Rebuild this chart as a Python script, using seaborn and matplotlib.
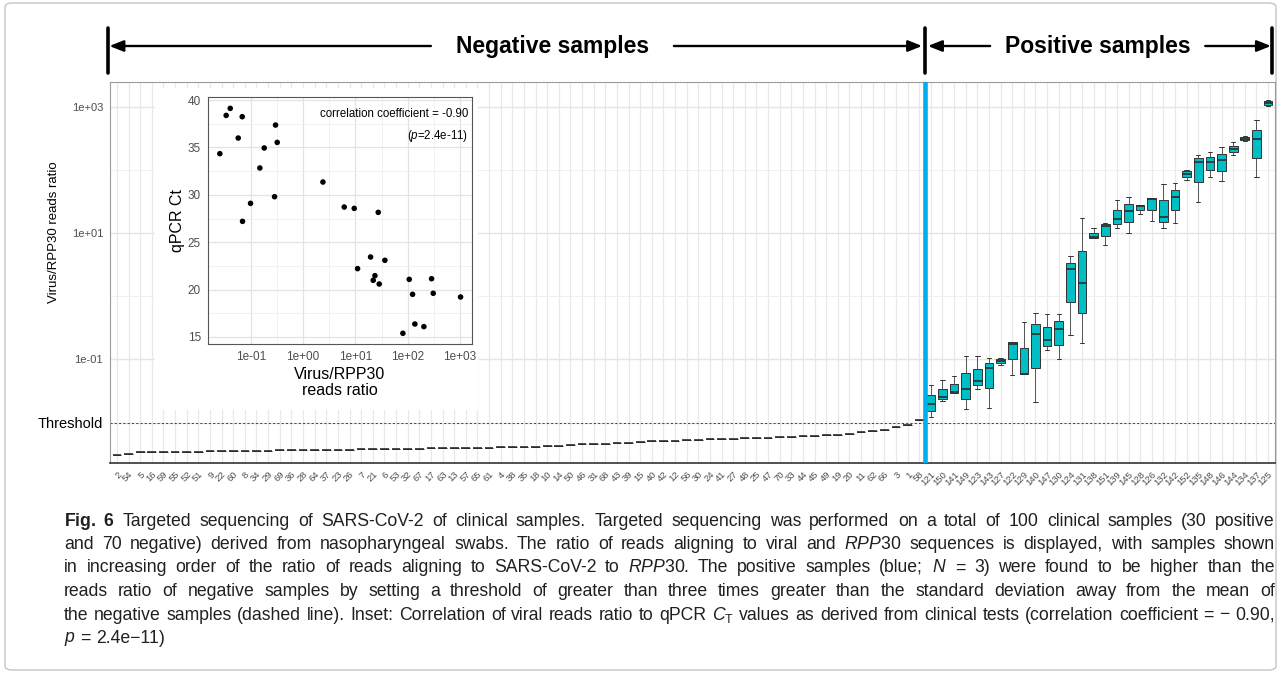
import numpy as np
import pandas as pd
import matplotlib
matplotlib.use("Agg")
import matplotlib.pyplot as plt
import matplotlib.transforms as mtransforms
from matplotlib.patches import Rectangle, FancyBboxPatch
from matplotlib.ticker import FixedLocator, NullFormatter
import seaborn as sns

# ---------------- data ----------------
neg_labels = ["2", "54", "5", "16", "59", "55", "52", "51", "9", "22",
              "60", "8", "34", "29", "69", "36", "28", "64", "37", "23",
              "26", "7", "21", "6", "53", "32", "67", "17", "63", "13",
              "57", "65", "61", "4", "38", "35", "18", "10", "14", "50",
              "46", "31", "68", "43", "39", "15", "40", "42", "12", "56",
              "30", "24", "41", "27", "48", "25", "47", "70", "33", "44",
              "45", "49", "19", "20", "11", "62", "66", "3", "1", "58"]
neg_ratio = [0.00308, 0.00319, 0.00337, 0.00343, 0.00343, 0.00343, 0.00346, 0.00346, 0.00349, 0.00352,
             0.00356, 0.00356, 0.00358, 0.00360, 0.00362, 0.00365, 0.00366, 0.00369, 0.00369, 0.00372,
             0.00374, 0.00376, 0.00378, 0.00383, 0.00384, 0.00386, 0.00388, 0.00390, 0.00393, 0.00394,
             0.00396, 0.00400, 0.00403, 0.00406, 0.00408, 0.00411, 0.00414, 0.00419, 0.00424, 0.00435,
             0.00458, 0.00462, 0.00466, 0.00469, 0.00475, 0.00493, 0.00502, 0.00512, 0.00516, 0.00525,
             0.00535, 0.00543, 0.00550, 0.00557, 0.00564, 0.00570, 0.00578, 0.00586, 0.00596, 0.00607,
             0.00618, 0.00628, 0.00647, 0.00671, 0.00697, 0.00735, 0.00762, 0.00849, 0.00914, 0.01114]

pos_labels = ["121", "150", "141", "149", "123", "143", "127", "122", "129", "140",
              "147", "130", "124", "131", "138", "151", "139", "145", "128", "126",
              "132", "142", "152", "135", "148", "146", "144", "134", "137", "125"]
pos_whishi = [0.039, 0.0479, 0.054, 0.1115, 0.1115, 0.1062, 0.1037, 0.1875, 0.397, 0.550,
              0.524, 0.524, 4.34, 17.0, 12.1, 14.5, 33.5, 37.8, 27.3, 35.2,
              59.8, 62.8, 100.6, 173, 189, 232, 274, 349, 609, 1274]
pos_q3 = [0.0278, 0.0345, 0.0404, 0.0617, 0.0713, 0.0875, 0.1012, 0.1875, 0.1527, 0.369,
          0.323, 0.402, 3.41, 5.27, 10.1, 13.7, 23.0, 28.6, 27.3, 35.2,
          32.7, 48.7, 94.7, 154, 159, 180, 240, 329, 434, 1228]
pos_med = [0.0198, 0.0255, 0.0306, 0.0341, 0.0456, 0.0731, 0.0941, 0.1766, 0.0588, 0.2506,
           0.199, 0.304, 2.65, 1.63, 8.75, 12.9, 16.4, 21.9, 26.3, 34.7,
           18.1, 37.8, 86.0, 134.5, 134.5, 141, 213, 310, 310, 1143]
pos_q1 = [0.01535, 0.0232, 0.0299, 0.0237, 0.0399, 0.0354, 0.0875, 0.1, 0.0588, 0.0722,
          0.1641, 0.1702, 0.80, 0.543, 8.45, 9.08, 14.0, 14.7, 23.0, 23.0,
          14.7, 22.8, 78.0, 65.1, 100.6, 97.0, 189, 292, 155.5, 1062]
pos_whislo = [0.01236, 0.0221, 0.0295, 0.0165, 0.0341, 0.0173, 0.0805, 0.0567, 0.0588, 0.0210,
              0.1403, 0.1012, 0.2416, 0.181, 8.35, 6.55, 12.1, 10.1, 20.2, 15.6,
              12.1, 14.4, 70.0, 31.2, 77.1, 67.5, 173, 288, 78.0, 1037]

threshold = 1e-2
y_ticks = [1e-2, 1e-1, 1e1, 1e3]
y_ticklabels = ["Threshold", "1e-01", "1e+01", "1e+03"]
y_minor = [1e0, 1e2]

inset_ratio = [0.0255, 0.0337, 0.0403, 0.0683, 0.0573, 0.0693, 0.0986, 0.180, 0.1486, 0.2965,
               0.319, 0.284, 2.39, 6.11, 9.49, 27.3, 11.0, 19.5, 36.6, 23.6,
               21.9, 28.5, 107, 124, 286, 308, 1026, 137, 204, 80.9]
inset_ct = [34.34, 38.38, 39.12, 38.24, 35.99, 27.20, 29.10, 34.94, 32.83, 37.36,
            35.53, 29.80, 31.35, 28.71, 28.57, 28.15, 22.21, 23.44, 23.09, 21.47,
            20.98, 20.59, 21.08, 19.50, 21.15, 19.61, 19.22, 16.37, 16.09, 15.39]
inset_xticks = [1e-1, 1e0, 1e1, 1e2, 1e3]
inset_xticklabels = ["1e-01", "1e+00", "1e+01", "1e+02", "1e+03"]
inset_yticks = [15, 20, 25, 30, 35, 40]

caption_lines = [
    r"$\mathbf{Fig.\ 6}$ Targeted sequencing of SARS-CoV-2 of clinical samples. Targeted sequencing was performed on a total of 100 clinical samples (30 positive",
    r"and 70 negative) derived from nasopharyngeal swabs. The ratio of reads aligning to viral and $\mathit{RPP30}$ sequences is displayed, with samples shown",
    r"in increasing order of the ratio of reads aligning to SARS-CoV-2 to $\mathit{RPP30}$. The positive samples (blue; $\mathit{N}$ = 3) were found to be higher than the",
    r"reads ratio of negative samples by setting a threshold of greater than three times greater than the standard deviation away from the mean of",
    r"the negative samples (dashed line). Inset: Correlation of viral reads ratio to qPCR $\mathit{C}_{\mathrm{T}}$ values as derived from clinical tests (correlation coefficient = − 0.90,",
    r"$\mathit{p}$ = 2.4e−11)",
]

# ---------------- style ----------------
sns.set_theme(style="white")
plt.rcParams["font.family"] = ["Liberation Sans", "DejaVu Sans"]
plt.rcParams["mathtext.fontset"] = "custom"
plt.rcParams["mathtext.rm"] = "Liberation Sans"
plt.rcParams["mathtext.it"] = "Liberation Sans:italic"
plt.rcParams["mathtext.bf"] = "Liberation Sans:bold"

W, H = 1281, 674
fig = plt.figure(figsize=(W / 100, H / 100), dpi=100)
fig.patch.set_facecolor("white")

def fx(px):
    return px / W

def fy(py):
    return (H - py) / H

# long-form table for the boxplots
rows = [(l, v) for l, v in zip(neg_labels, neg_ratio)]
for l, a, b, c, d, e in zip(pos_labels, pos_whislo, pos_q1, pos_med, pos_q3, pos_whishi):
    for v in (a, b, c, d, e):
        rows.append((l, v))
df = pd.DataFrame(rows, columns=["sample", "ratio"])
order = neg_labels + pos_labels

ax = fig.add_axes([fx(110), fy(463), fx(1275) - fx(110), fy(82) - fy(463)])
sns.boxplot(data=df, x="sample", y="ratio", order=order, log_scale=True,
            color="#00BFC4", saturation=1, linecolor="#333333", linewidth=0.7,
            width=0.75, showfliers=False, ax=ax,
            whiskerprops=dict(color="#555555"),
            medianprops=dict(color="#2b2b2b", linewidth=1.2))

ax.set_xlim(-0.6, len(order) - 0.4)
ax.set_ylim(10 ** -2.64, 10 ** 3.39)
ax.yaxis.set_major_locator(FixedLocator(y_ticks))
ax.set_yticklabels(y_ticklabels)
ax.yaxis.set_minor_locator(FixedLocator(y_minor))
ax.yaxis.set_minor_formatter(NullFormatter())
ax.set_axisbelow(True)
ax.grid(axis="y", which="major", color="#e5e5e5", linewidth=1.0)
ax.grid(axis="y", which="minor", color="#efefef", linewidth=0.7)
ax.grid(axis="x", which="major", color="#e8e8e8", linewidth=0.9)
ax.axhline(threshold, color="#444444", linewidth=0.7, linestyle=(0, (2.2, 2.2)), zorder=1)
ax.axvline(len(neg_labels) - 0.5, color="#00AEEF", linewidth=3.3, zorder=6)

ax.set_xlabel("")
ax.set_ylabel("Virus/RPP30 reads ratio", fontsize=9.5, color="black")
ax.yaxis.set_label_coords((60 - 110) / 1165, (463 - 232) / 381)
ax.tick_params(axis="x", which="major", length=4, width=0.8, color="black",
               labelsize=6.8, labelcolor="#4d4d4d", pad=1)
plt.setp(ax.get_xticklabels(), rotation=45, ha="right", va="top", rotation_mode="anchor")
ax.tick_params(axis="y", which="major", length=3, width=0.6, color="#555555",
               labelsize=8, labelcolor="#4d4d4d", pad=2)
ax.tick_params(axis="y", which="minor", length=0)
tl = ax.get_yticklabels()[0]
tl.set_fontsize(10.5)
tl.set_color("black")
for s in ["top", "right", "left"]:
    ax.spines[s].set_color("#9a9a9a")
    ax.spines[s].set_linewidth(0.8)
ax.spines["bottom"].set_color("#333333")
ax.spines["bottom"].set_linewidth(1.2)

# ---------------- top arrows ----------------
trans = mtransforms.blended_transform_factory(ax.transData, fig.transFigure)
ya = fy(46)
left_bar, mid_bar, right_bar = -0.75, len(neg_labels) - 0.5, len(order) - 0.65
aprops = dict(arrowstyle="-|>,head_length=0.7,head_width=0.28", lw=1.7, color="black",
              shrinkA=0, shrinkB=0)
for x0, x1 in [(27.0, left_bar + 0.1), (47.9, mid_bar - 0.25), (75.1, mid_bar + 0.25), (93.6, right_bar - 0.1)]:
    ax.annotate("", xy=(x1, ya), xytext=(x0, ya), xycoords=trans, textcoords=trans,
                arrowprops=aprops, annotation_clip=False)
for xb in (left_bar, mid_bar, right_bar):
    ax.plot([xb, xb], [fy(28), fy(73)], transform=trans, color="black", lw=2.6,
            solid_capstyle="round", clip_on=False)
ax.text(37.5, ya, "Negative samples", transform=trans, ha="center", va="center",
        fontsize=16.5, fontweight="bold", color="black")
ax.text(84.4, ya, "Positive samples", transform=trans, ha="center", va="center",
        fontsize=16.5, fontweight="bold", color="black")

# ---------------- inset ----------------
bg = Rectangle((fx(155), fy(410)), fx(478) - fx(155), fy(88) - fy(410),
               transform=fig.transFigure, facecolor="white", edgecolor="none", zorder=1)
fig.add_artist(bg)

iax = fig.add_axes([fx(208), fy(344), fx(472) - fx(208), fy(97) - fy(344)])
iax.set_zorder(2)
iax.set_xscale("log")
sns.scatterplot(x=inset_ratio, y=inset_ct, ax=iax, color="black", s=16,
                edgecolor="none", linewidth=0, zorder=3)
iax.set_xlim(10 ** -1.82, 10 ** 3.23)
iax.set_ylim(14.26, 40.32)
iax.xaxis.set_major_locator(FixedLocator(inset_xticks))
iax.set_xticklabels(inset_xticklabels)
iax.xaxis.set_minor_locator(FixedLocator([10 ** -0.5, 10 ** 0.5, 10 ** 1.5, 10 ** 2.5]))
iax.xaxis.set_minor_formatter(NullFormatter())
iax.yaxis.set_major_locator(FixedLocator(inset_yticks))
iax.yaxis.set_minor_locator(FixedLocator([17.5, 22.5, 27.5, 32.5, 37.5]))
iax.yaxis.set_minor_formatter(NullFormatter())
iax.set_axisbelow(True)
iax.grid(which="major", color="#e3e3e3", linewidth=0.9)
iax.grid(which="minor", color="#efefef", linewidth=0.6)
iax.tick_params(which="major", length=3, width=0.6, color="#333333",
                labelsize=8.5, labelcolor="#4d4d4d", pad=2)
iax.tick_params(which="minor", length=0)
for s in iax.spines.values():
    s.set_color("#555555")
    s.set_linewidth(0.8)
iax.set_xlabel("Virus/RPP30\nreads ratio", fontsize=11.5, color="black", labelpad=3,
               linespacing=1.1)
iax.set_ylabel("qPCR Ct", fontsize=11.5, color="black", labelpad=2)
iax.text(0.985, 0.955, "correlation coefficient = -0.90", transform=iax.transAxes,
         ha="right", va="top", fontsize=8.3, color="black")
iax.text(0.985, 0.875, r"($\mathit{p}$=2.4e-11)", transform=iax.transAxes,
         ha="right", va="top", fontsize=8.3, color="black")

# ---------------- caption (justified) ----------------
def tokenize(line):
    toks, cur, in_math = [], "", False
    for ch in line:
        if ch == "$":
            in_math = not in_math
        if ch == " " and not in_math:
            if cur:
                toks.append(cur)
            cur = ""
        else:
            cur += ch
    if cur:
        toks.append(cur)
    return toks

renderer = fig.canvas.get_renderer()
cap_left, cap_right = 64, 1275
cap_fs = 12.7
space_probe = fig.text(0, 0, "a a", fontsize=cap_fs)
aa = fig.text(0, 0, "aa", fontsize=cap_fs)
space_w = space_probe.get_window_extent(renderer).width - aa.get_window_extent(renderer).width
space_probe.remove()
aa.remove()

y0 = 521
for i, line in enumerate(caption_lines):
    words = tokenize(line)
    arts = [fig.text(0, fy(y0 + i * 23.5), w, ha="left", va="center",
                     fontsize=cap_fs, color="#231f20") for w in words]
    widths = [a.get_window_extent(renderer).width for a in arts]
    last = i == len(caption_lines) - 1
    if last or len(words) < 2:
        gap = space_w
    else:
        gap = (cap_right - cap_left - sum(widths)) / (len(words) - 1)
    xpos = cap_left
    for a, wd in zip(arts, widths):
        a.set_x(fx(xpos))
        xpos += wd + gap

border = FancyBboxPatch((fx(5), fy(670)), fx(1276) - fx(5), fy(3) - fy(670),
                        boxstyle="round,pad=0,rounding_size=0.006",
                        transform=fig.transFigure, facecolor="none",
                        edgecolor="#c4c4c4", linewidth=1.0, zorder=0)
fig.add_artist(border)

fig.savefig("out.png", dpi=100, facecolor="white")
